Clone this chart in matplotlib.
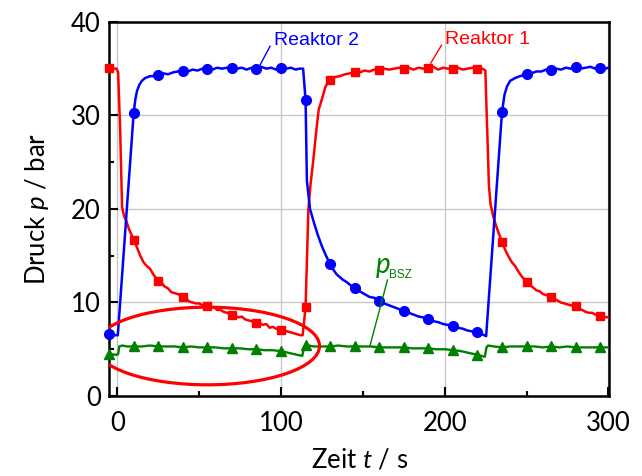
import matplotlib
matplotlib.use("Agg")
import matplotlib.pyplot as plt
from matplotlib.patches import Ellipse
from matplotlib.ticker import MultipleLocator

plt.rcParams['font.family'] = ['Lato', 'DejaVu Sans']
plt.rcParams['mathtext.fontset'] = 'custom'
plt.rcParams['mathtext.rm'] = 'Lato'
plt.rcParams['mathtext.it'] = 'Lato:italic'

# measured curves (time in s, pressure in bar)
r1_t = [-5, -0.5, 0.5, 1.8, 2.9, 4, 5.5, 7, 8.5, 10, 12, 14, 16, 18, 20, 22, 25, 27, 29, 31,
        33, 35, 37, 40, 42, 44, 46, 48, 50, 52, 55, 57, 59, 61, 63, 65, 67, 70, 72, 74,
        76, 78, 80, 82, 85, 87, 89, 91, 93, 95, 97, 100, 102, 104, 106, 108, 110, 112, 113.2, 115,
        116.7, 118, 119.7, 121.5, 123, 125.4, 127, 128.8, 130, 133, 136, 139, 142, 145, 148, 151, 154, 157, 160, 163,
        166, 169, 172, 175, 178, 181, 184, 187, 190, 193, 196, 199, 202, 205, 208, 211, 214, 217, 220, 223,
        224.8, 226, 227, 228, 229.5, 231, 233, 235, 237, 239, 241, 243, 245, 247, 250, 252, 254, 256, 258, 260,
        262, 265, 267, 269, 271, 273, 275, 277, 280, 282, 284, 286, 288, 290, 292, 295, 297, 300]
r1_p = [35.0, 35.0, 34.6, 28.0, 20.2, 19.3, 18.7, 17.9, 17.3, 16.7, 15.9, 15.0, 14.3, 13.9, 13.6, 13.0, 12.3, 12.1, 11.7, 11.5,
        11.1, 11.0, 10.9, 10.6, 10.4, 10.1, 10.0, 9.9, 9.9, 9.7, 9.6, 9.5, 9.5, 9.2, 9.2, 9.0, 8.9, 8.7, 8.6, 8.4,
        8.5, 8.2, 8.1, 8.0, 7.8, 7.8, 7.6, 7.7, 7.3, 7.4, 7.2, 7.1, 7.0, 6.9, 6.8, 6.7, 6.6, 6.5, 6.5, 9.5,
        19.9, 22.6, 25.2, 28.3, 30.6, 32.0, 33.0, 33.6, 33.8, 34.1, 34.2, 34.4, 34.5, 34.6, 34.6, 34.8, 34.7, 34.9, 34.9, 35.0,
        34.9, 35.0, 35.1, 35.0, 35.1, 34.9, 35.1, 35.0, 35.1, 35.2, 34.9, 35.1, 35.0, 35.0, 35.1, 34.9, 35.0, 35.1, 35.0, 35.0,
        34.8, 28.0, 22.5, 20.5, 19.3, 18.4, 17.4, 16.5, 15.6, 14.9, 14.3, 13.9, 13.3, 12.8, 12.2, 11.9, 11.6, 11.3, 11.2, 10.9,
        10.8, 10.6, 10.4, 10.2, 10.0, 9.9, 9.8, 9.7, 9.6, 9.3, 9.2, 9.0, 8.9, 8.9, 8.7, 8.6, 8.5, 8.4]

r2_t = [-5, -1, 0.3, 10, 11, 12, 13.5, 15, 17, 20, 22, 25, 28, 31, 34, 37, 40, 43, 46, 49,
        52, 55, 58, 61, 64, 67, 70, 73, 76, 79, 82, 85, 88, 91, 94, 97, 100, 103, 106, 109,
        111, 113.5, 115, 115.8, 117.7, 120, 122.5, 125, 127.5, 130, 132, 134, 136, 138, 140, 142, 145, 148, 151, 154,
        157, 160, 163, 166, 169, 172, 175, 178, 181, 184, 187, 190, 193, 196, 199, 202, 205, 208, 211, 214,
        217, 220, 223, 225.3, 235, 236.5, 238, 240, 243, 246, 250, 253, 256, 259, 262, 265, 268, 271, 274, 277,
        280, 283, 286, 289, 292, 295, 298, 300]
r2_p = [6.6, 6.5, 6.5, 30.3, 31.7, 32.6, 33.3, 33.7, 34.0, 34.2, 34.2, 34.3, 34.5, 34.4, 34.6, 34.7, 34.8, 34.7, 34.9, 34.8,
        35.0, 35.0, 34.9, 35.1, 35.0, 35.1, 35.1, 35.0, 35.1, 34.9, 35.1, 35.0, 35.2, 35.0, 35.1, 34.9, 35.1, 35.0, 35.1, 34.9,
        35.0, 35.0, 31.6, 23.0, 20.0, 18.6, 17.2, 16.0, 15.0, 14.1, 13.5, 13.0, 12.7, 12.4, 12.2, 11.9, 11.6, 11.2, 10.9, 10.6,
        10.5, 10.2, 9.9, 9.7, 9.5, 9.3, 9.1, 8.9, 8.7, 8.5, 8.4, 8.2, 8.0, 7.9, 7.7, 7.6, 7.5, 7.3, 7.2, 7.0,
        6.9, 6.8, 6.6, 6.4, 30.4, 32.2, 33.1, 33.7, 34.0, 34.2, 34.4, 34.5, 34.7, 34.7, 34.9, 34.9, 35.0, 34.9, 35.1, 35.0,
        35.2, 35.0, 35.1, 35.2, 35.0, 35.1, 35.0, 35.1]

bsz_t = [-5, -0.5, 0.5, 1.2, 3, 6, 10, 15, 20, 25, 30, 35, 40, 45, 50, 55, 60, 65, 70, 75,
         80, 85, 90, 95, 100, 105, 110, 113, 114, 115, 117, 120, 125, 130, 135, 140, 145, 150, 155, 160,
         165, 170, 175, 180, 185, 190, 195, 200, 205, 210, 215, 220, 224.5, 225.5, 226.5, 230, 235, 240, 245, 250,
         255, 260, 265, 270, 275, 280, 285, 290, 295, 300]
bsz_p = [4.5, 4.4, 4.5, 5.3, 5.4, 5.3, 5.3, 5.3, 5.4, 5.3, 5.3, 5.3, 5.2, 5.3, 5.2, 5.2, 5.2, 5.1, 5.1, 5.1,
         5.0, 5.0, 4.9, 4.9, 4.8, 4.6, 4.4, 4.3, 5.2, 5.5, 5.4, 5.3, 5.3, 5.3, 5.4, 5.3, 5.3, 5.3, 5.3, 5.2,
         5.2, 5.2, 5.2, 5.1, 5.1, 5.1, 5.0, 5.0, 4.9, 4.8, 4.6, 4.4, 4.2, 5.2, 5.4, 5.3, 5.2, 5.3, 5.3, 5.3,
         5.3, 5.2, 5.3, 5.2, 5.3, 5.2, 5.2, 5.2, 5.2, 5.2]

# symbols, every 15 s
mark_t = [-5, 10, 25, 40, 55, 70, 85, 100, 115, 130, 145, 160, 175, 190, 205, 220, 235, 250, 265, 280, 295]
r1_mark = [35.1, 16.7, 12.3, 10.6, 9.6, 8.7, 7.8, 7.1, 9.5, 33.8, 34.6, 34.9, 35.0, 35.1, 35.0, 35.0, 16.5, 12.2, 10.6, 9.6, 8.6]
r2_mark = [6.6, 30.3, 34.3, 34.8, 35.0, 35.1, 35.0, 35.1, 31.6, 14.1, 11.6, 10.2, 9.1, 8.2, 7.5, 6.8, 30.4, 34.4, 34.9, 35.2, 35.1]
bsz_mark = [4.5, 5.3, 5.3, 5.2, 5.2, 5.1, 5.0, 4.8, 5.5, 5.3, 5.3, 5.2, 5.2, 5.1, 4.9, 4.4, 5.2, 5.3, 5.3, 5.2, 5.2]

RED = '#ff0000'
BLUE = '#0000ff'
GREEN = '#008000'

fig = plt.figure(figsize=(6.42, 4.76), dpi=100)
ax = fig.add_axes([0.170, 0.168, 0.779, 0.786])

ax.plot(bsz_t, bsz_p, color=GREEN, lw=1.7, zorder=3)
ax.plot(mark_t, bsz_mark, ls='none', marker='^', ms=7.5, color=GREEN, clip_on=False, zorder=3)
ax.plot(r1_t, r1_p, color=RED, lw=1.8, zorder=4)
ax.plot(mark_t, r1_mark, ls='none', marker='s', ms=6.3, color=RED, clip_on=False, zorder=4)
ax.plot(r2_t, r2_p, color=BLUE, lw=1.8, zorder=5)
ax.plot(mark_t, r2_mark, ls='none', marker='o', ms=7, color=BLUE, clip_on=False, zorder=5)

# red ellipse highlighting the BSZ pressure
ax.add_patch(Ellipse((55, 5.35), 137, 8.3, fill=False, ec=RED, lw=2.3, zorder=6))

# labels with pointer lines
ax.plot([93.3, 87.2], [37.4, 35.4], color=BLUE, lw=1.0, zorder=6)
ax.text(95.5, 37.5, 'Reaktor 2', color=BLUE, fontsize=14, family='Liberation Sans', va='baseline')
ax.plot([198, 191.5], [37.5, 35.6], color=RED, lw=1.0, zorder=6)
ax.text(200, 37.6, 'Reaktor 1', color=RED, fontsize=14, family='Liberation Sans', va='baseline')
ax.plot([165, 154.3], [12.4, 5.35], color=GREEN, lw=1.0, zorder=6)
ax.text(157.5, 13.2, '$p$', color=GREEN, fontsize=20, va='baseline')
ax.text(166.2, 12.6, 'BSZ', color=GREEN, fontsize=8.5, family='Liberation Sans', va='baseline')

ax.set_xlim(-5, 300.5)
ax.set_ylim(0, 40)
ax.xaxis.set_major_locator(MultipleLocator(100))
ax.xaxis.set_minor_locator(MultipleLocator(50))
ax.yaxis.set_major_locator(MultipleLocator(10))
ax.yaxis.set_minor_locator(MultipleLocator(5))
ax.grid(True, which='major', color='#c8c8c8', lw=1.0, zorder=0)
ax.set_axisbelow(True)

ax.tick_params(which='both', direction='in', width=1.5, labelsize=18.5)
ax.tick_params(which='major', length=6.5)
ax.tick_params(which='minor', length=3.6)
ax.tick_params(axis='x', pad=11)
ax.tick_params(axis='y', pad=6)
for s in ax.spines.values():
    s.set_linewidth(1.8)

ax.set_xlabel('Zeit $t$ / s', fontsize=18.5, labelpad=8)
ax.set_ylabel('Druck $p$ / bar', fontsize=18.5, labelpad=14)

fig.savefig('out.png', dpi=100)
